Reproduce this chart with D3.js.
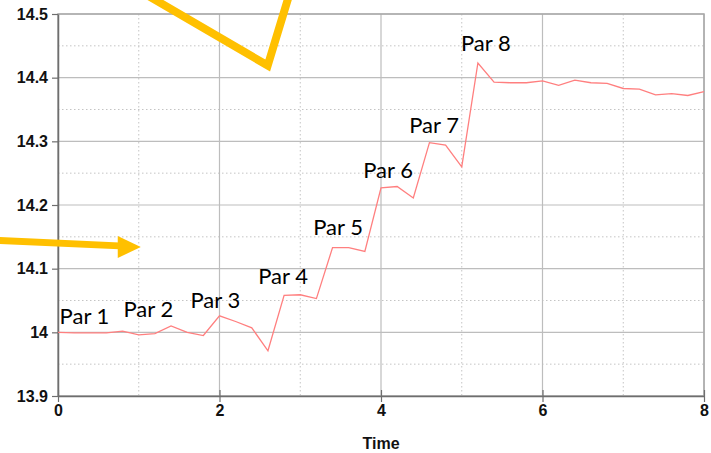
<!DOCTYPE html>
<html>
<head>
<meta charset="utf-8">
<script src="https://cdn.jsdelivr.net/npm/d3@7"></script>
<style>
  html, body { margin: 0; padding: 0; background: #fff; }
  svg { display: block; }
</style>
</head>
<body>
<svg width="711" height="453"></svg>
<script>
// series, sampled every 0.2 s
const times = d3.range(41).map(i => +(i * 0.2).toFixed(1));
const values = [
  14.000, 13.999, 13.999, 13.999, 14.002, 13.996, 13.998, 14.010, 14.000, 13.995,
  14.026, 14.017, 14.007, 13.971, 14.058, 14.059, 14.053, 14.133, 14.133, 14.127,
  14.227, 14.229, 14.211, 14.298, 14.294, 14.260, 14.423, 14.393, 14.392, 14.392,
  14.395, 14.388, 14.396, 14.392, 14.391, 14.383, 14.382, 14.373, 14.375, 14.372,
  14.378
];

// "Par n" annotations (left edge / baseline, in data units)
const parLabels = ['Par 1', 'Par 2', 'Par 3', 'Par 4', 'Par 5', 'Par 6', 'Par 7', 'Par 8'];
const parX = [0.02, 0.81, 1.64, 2.48, 3.16, 3.78, 4.35, 4.99];
const parY = [14.013, 14.024, 14.038, 14.076, 14.153, 14.242, 14.313, 14.442];

const xTicks = [0, 2, 4, 6, 8];
const xMinor = [1, 3, 5, 7];
const yTicks = [13.9, 14.0, 14.1, 14.2, 14.3, 14.4, 14.5];
const yMinor = [13.95, 14.05, 14.15, 14.25, 14.35, 14.45];

// orange call-out shapes, in data units
const arrowShaft = [[-0.73, 14.1442], [0.76, 14.1358]];
const arrowHead = [[1.025, 14.134], [0.74, 14.1513], [0.74, 14.1167]];
const vMark = [[1.098, 14.53], [2.597, 14.419], [2.863, 14.53]];

const svg = d3.select('svg'),
      margin = {top: 14, right: 7, bottom: 57, left: 58},
      width = +svg.attr('width') - margin.left - margin.right,
      height = +svg.attr('height') - margin.top - margin.bottom;

const x = d3.scaleLinear().domain([0, 8]).range([0, width]);
const y = d3.scaleLinear().domain([13.9, 14.5]).range([height, 0]);

const g = svg.append('g')
  .attr('transform', `translate(${margin.left},${margin.top})`);

// minor dotted grid
g.append('g').selectAll('line').data(xMinor).enter().append('line')
  .attr('x1', d => x(d)).attr('x2', d => x(d))
  .attr('y1', 0).attr('y2', height)
  .attr('stroke', '#c4c4c4').attr('stroke-dasharray', '1.5,2.5');
g.append('g').selectAll('line').data(yMinor).enter().append('line')
  .attr('y1', d => y(d)).attr('y2', d => y(d))
  .attr('x1', 0).attr('x2', width)
  .attr('stroke', '#c4c4c4').attr('stroke-dasharray', '1.5,2.5');

// major solid grid
g.append('g').selectAll('line').data(xTicks).enter().append('line')
  .attr('x1', d => x(d)).attr('x2', d => x(d))
  .attr('y1', 0).attr('y2', height)
  .attr('stroke', '#bdbdbd').attr('stroke-width', 1.2);
g.append('g').selectAll('line').data(yTicks).enter().append('line')
  .attr('y1', d => y(d)).attr('y2', d => y(d))
  .attr('x1', 0).attr('x2', width)
  .attr('stroke', '#bdbdbd').attr('stroke-width', 1.2);

// frame
g.append('rect')
  .attr('width', width).attr('height', height)
  .attr('fill', 'none').attr('stroke', '#a8a8a8').attr('stroke-width', 1.5);

// axes
const xAxis = g.append('g')
  .attr('transform', `translate(0,${height})`)
  .call(d3.axisBottom(x).tickValues(xTicks).tickFormat(d3.format('d')).tickSizeInner(6).tickSizeOuter(0));
const yAxis = g.append('g')
  .call(d3.axisLeft(y).tickValues(yTicks).tickFormat(d => d3.format('.1f')(d).replace('14.0', '14')).tickSizeInner(6).tickSizeOuter(0));

[xAxis, yAxis].forEach(a => {
  a.select('.domain').attr('stroke', '#6e6e6e').attr('stroke-width', 1.5);
  a.selectAll('.tick line').attr('stroke', '#6e6e6e').attr('stroke-width', 1.2);
  a.selectAll('.tick text')
    .attr('fill', '#111')
    .style('font-family', '"Liberation Sans", Arial, sans-serif')
    .style('font-size', '16px')
    .style('font-weight', 'bold');
});
xAxis.selectAll('.tick line').attr('y1', -6);
xAxis.selectAll('.tick text').attr('dy', '0.71em').attr('y', 9);
yAxis.selectAll('.tick text').attr('x', -10);

// x axis title
svg.append('text')
  .attr('x', margin.left + width / 2)
  .attr('y', 449)
  .attr('text-anchor', 'middle')
  .style('font-family', '"Liberation Sans", Arial, sans-serif')
  .style('font-size', '16px')
  .style('font-weight', 'bold')
  .attr('fill', '#111')
  .text('Time');

// series line
const line = d3.line()
  .x((d, i) => x(times[i]))
  .y(d => y(d));

g.append('path')
  .datum(values)
  .attr('fill', 'none')
  .attr('stroke', '#ff7f7f')
  .attr('stroke-width', 1.3)
  .attr('d', line);

// Par labels
g.append('g').selectAll('text').data(parLabels).enter().append('text')
  .attr('x', (d, i) => x(parX[i]))
  .attr('y', (d, i) => y(parY[i]))
  .style('font-family', 'Lato, "Open Sans", sans-serif')
  .style('font-size', '22px')
  .attr('fill', '#000')
  .text(d => d);

// orange call-outs
const pt = d3.line().x(d => x(d[0])).y(d => y(d[1]));
g.append('path')
  .datum(arrowShaft)
  .attr('d', pt)
  .attr('stroke', '#ffc000').attr('stroke-width', 7).attr('fill', 'none');
g.append('path')
  .datum(arrowHead)
  .attr('d', d => pt(d) + 'Z')
  .attr('fill', '#ffc000');
g.append('path')
  .datum(vMark)
  .attr('d', pt)
  .attr('stroke', '#ffc000').attr('stroke-width', 8)
  .attr('stroke-linejoin', 'miter').attr('fill', 'none');
</script>
</body>
</html>
